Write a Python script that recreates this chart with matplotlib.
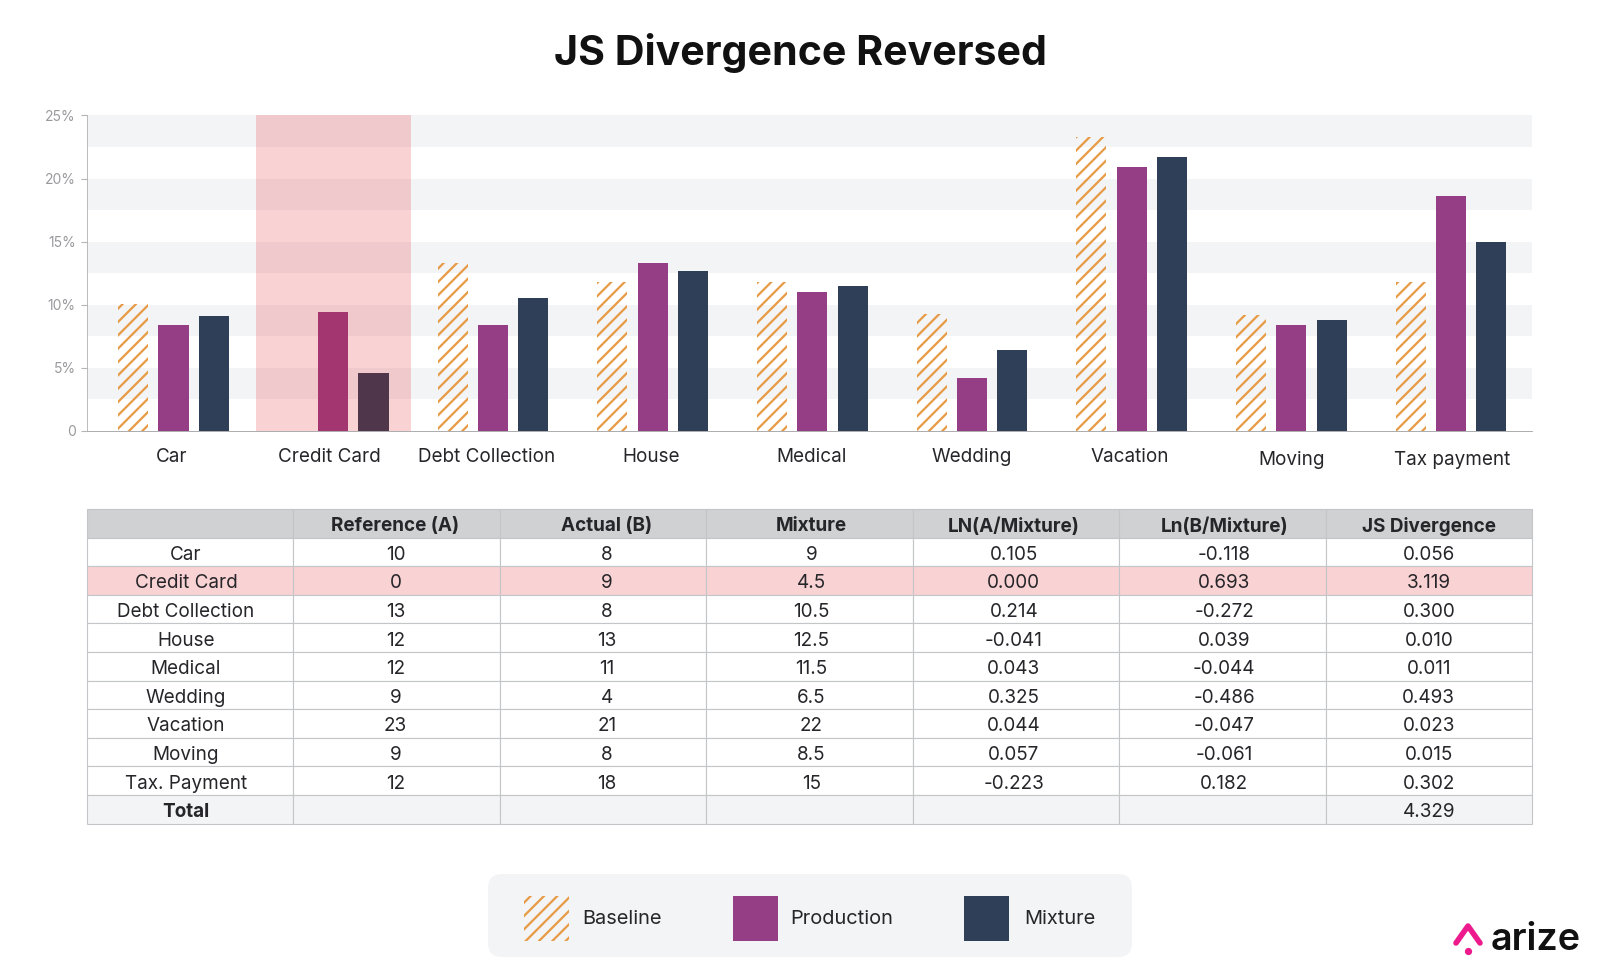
from matplotlib import pyplot as plt
from matplotlib.patches import FancyBboxPatch, Rectangle
from matplotlib.transforms import ScaledTranslation

plt.rcParams['font.family'] = ['Inter', 'DejaVu Sans']
plt.rcParams['hatch.linewidth'] = 2.0
plt.rcParams['hatch.color'] = '#E79A45'

#%% chart data
categories = ['Car', 'Credit Card', 'Debt Collection', 'House', 'Medical',
              'Wedding', 'Vacation', 'Moving', 'Tax payment']
baseline = [10.1, 0, 13.3, 11.8, 11.8, 9.3, 23.3, 9.2, 11.8]
production = [8.4, 9.4, 8.4, 13.3, 11.0, 4.2, 20.9, 8.4, 18.6]
mixture = [9.1, 4.6, 10.5, 12.7, 11.5, 6.4, 21.7, 8.8, 15.0]
y_ticks = [0, 5, 10, 15, 20, 25]
y_labels = ['0', '5%', '10%', '15%', '20%', '25%']

#%% table data
col_labels = ['', 'Reference (A)', 'Actual (B)', 'Mixture', 'LN(A/Mixture)',
              'Ln(B/Mixture)', 'JS Divergence']
row_labels = ['Car', 'Credit Card', 'Debt Collection', 'House', 'Medical',
              'Wedding', 'Vacation', 'Moving', 'Tax. Payment', 'Total']
col_a = ['10', '0', '13', '12', '12', '9', '23', '9', '12', '']
col_b = ['8', '9', '8', '13', '11', '4', '21', '8', '18', '']
col_mix = ['9', '4.5', '10.5', '12.5', '11.5', '6.5', '22', '8.5', '15', '']
col_ln_a = ['0.105', '0.000', '0.214', '-0.041', '0.043', '0.325', '0.044',
            '0.057', '-0.223', '']
col_ln_b = ['-0.118', '0.693', '-0.272', '0.039', '-0.044', '-0.486', '-0.047',
            '-0.061', '0.182', '']
col_js = ['0.056', '3.119', '0.300', '0.010', '0.011', '0.493', '0.023',
          '0.015', '0.302', '4.329']

#%% colours
ORANGE = '#E79A45'
PURPLE = '#953E85'
NAVY = '#2E3F57'
BAND = '#F3F4F6'
PINK_ROW = '#F9D2D3'
HEADER = '#CFD1D3'
GRID = '#C4C5C8'
TEXT = '#26262A'
W, H = 1600, 976

fig = plt.figure(figsize=(20, 12.2), dpi=80, facecolor='white')

#%% bars
ax = fig.add_axes([86.7 / W, 1 - 431 / H, (1532 - 86.7) / W, (431 - 115.5) / H])
offset = 0.2524
width = 0.188
for low in y_ticks[:-1]:
    ax.axhspan(low + 2.5, low + 5, color=BAND, lw=0, zorder=0)
for i in range(len(categories)):
    ax.bar(i - offset, baseline[i], width, facecolor='none', edgecolor=ORANGE,
           hatch='//', lw=0, zorder=2)
    ax.bar(i, production[i], width, color=PURPLE, zorder=2)
    ax.bar(i + offset, mixture[i], width, color=NAVY, zorder=2)
ax.axvspan(0.516, 1.487, color='#E11419', alpha=0.19, lw=0, zorder=3)
ax.set_xlim(-0.5435, 8.507)
ax.set_ylim(0, 25)
ax.set_yticks(y_ticks, y_labels, fontsize=12.5, color='#9A9A9E')
ax.tick_params(axis='y', length=5, width=1, color='#B5B5B8', pad=5)
ax.set_xticks(range(len(categories)), categories, fontsize=17, color=TEXT)
ax.tick_params(axis='x', length=0, pad=15.5)
for s in ['top', 'right']:
    ax.spines[s].set_visible(False)
ax.spines['left'].set_color('#B5B5B8')
ax.spines['bottom'].set_color('#A5A5A8')
ax.set_axisbelow(False)

# labels in the source are nudged by hand
nudge_x = [-2, -4, -6, -1, -1, 0, -2, 0, 1]
nudge_y = [0, 0, 0, 0, 0, 0, 0, -3, -3]
for lab, dx, dy in zip(ax.get_xticklabels(), nudge_x, nudge_y):
    lab.set_transform(lab.get_transform() + ScaledTranslation(dx / 80, dy / 80, fig.dpi_scale_trans))

#%% table
tab_ax = fig.add_axes([86.7 / W, 1 - 823.5 / H, (1532 - 86.7) / W, 314.5 / H])
tab_ax.axis('off')
rows = list(zip(row_labels, col_a, col_b, col_mix, col_ln_a, col_ln_b, col_js))
table = tab_ax.table(cellText=[col_labels] + [list(r) for r in rows],
                     bbox=[0, 0, 1, 1], cellLoc='center')
table.auto_set_font_size(False)
col_nudge = [-4, -1, 4, 2, -2, 2, 0]
for (r, c), cell in table.get_celld().items():
    cell.set_edgecolor(GRID)
    cell.set_linewidth(1)
    txt = cell.get_text()
    txt.set_fontsize(17)
    txt.set_color(TEXT)
    txt.set_transform(ScaledTranslation(col_nudge[c] / 80, -3 / 80, fig.dpi_scale_trans))
    if r == 0:
        cell.set_facecolor(HEADER)
        txt.set_fontweight('bold')
    elif r == 2:
        cell.set_facecolor(PINK_ROW)
    elif r == len(rows):
        cell.set_facecolor(BAND)
        if c == 0:
            txt.set_fontweight('bold')

#%% title, legend, logo (drawn in pixel space)
page = fig.add_axes([0, 0, 1, 1], zorder=5)
page.set_xlim(0, W)
page.set_ylim(H, 0)
page.axis('off')
page.patch.set_alpha(0)

page.text(801, 53, 'JS Divergence Reversed', ha='center', va='center',
          fontsize=37, fontweight='bold', color='#111111')

page.add_patch(FancyBboxPatch((500, 886), 620, 59, boxstyle='round,pad=12,rounding_size=14',
                              facecolor=BAND, edgecolor='none'))
page.add_patch(Rectangle((524, 896), 45, 45, facecolor='none', edgecolor=ORANGE, hatch='//', lw=0))
page.add_patch(Rectangle((733, 896), 45, 45, color=PURPLE, lw=0))
page.add_patch(Rectangle((964, 896), 45, 45, color=NAVY, lw=0))
page.text(582, 918.5, 'Baseline', va='center', fontsize=18, color=TEXT)
page.text(790, 918.5, 'Production', va='center', fontsize=18, color=TEXT)
page.text(1024, 918.5, 'Mixture', va='center', fontsize=18, color=TEXT)

page.plot([1456, 1468, 1480], [943, 926, 943], color='#EC1A8D', lw=5, solid_capstyle='round')
page.plot([1468], [951], 'o', color='#EC1A8D', ms=5.5)
page.text(1491, 940, 'arize', va='center', fontsize=34, fontweight='semibold', color='#111111')

fig.savefig('out.png', dpi=80)
